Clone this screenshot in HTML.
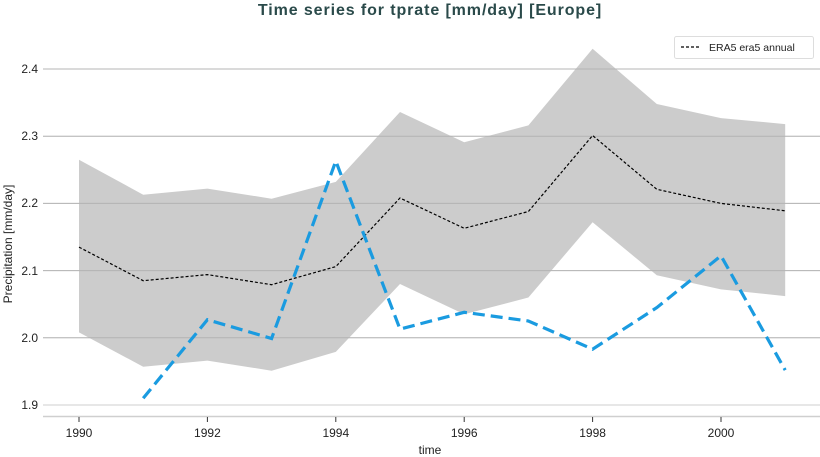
<!DOCTYPE html>
<html><head><meta charset="utf-8"><style>
body{margin:0;background:#fff;}
svg{display:block;font-family:"Liberation Sans","DejaVu Sans",sans-serif;}
</style></head><body>
<svg width="820" height="457" viewBox="0 0 820 457">
<text x="430" y="15" text-anchor="middle" font-size="16" font-weight="bold" letter-spacing="0.9" fill="#2a4a4a">Time series for tprate [mm/day] [Europe]</text>
<g stroke="#cfcfcf" stroke-width="1">
<line x1="43" x2="820" y1="69" y2="69"/><line x1="43" x2="820" y1="136.2" y2="136.2"/>
<line x1="43" x2="820" y1="203.4" y2="203.4"/><line x1="43" x2="820" y1="270.6" y2="270.6"/>
<line x1="43" x2="820" y1="337.8" y2="337.8"/><line x1="43" x2="820" y1="405" y2="405"/>
</g>
<polygon fill="#cccccc" points="79,159.7 143.2,194.7 207.4,188.6 271.6,198.7 335.8,181.9 400,112 464.2,142.2 528.4,125.4 592.6,48.8 656.8,104 721,118.1 785.2,124.1 785.2,296.1 721,289.4 656.8,275.3 592.6,222.2 528.4,297.5 464.2,314.3 400,284 335.8,351.9 271.6,370.7 207.4,360.6 143.2,366.7 79,332.4"/>
<g stroke="#999" stroke-opacity="0.5"><line x1="43" x2="820" y1="69" y2="69"/><line x1="43" x2="820" y1="136.2" y2="136.2"/><line x1="43" x2="820" y1="203.4" y2="203.4"/><line x1="43" x2="820" y1="270.6" y2="270.6"/><line x1="43" x2="820" y1="337.8" y2="337.8"/></g>
<polyline fill="none" stroke="#000" stroke-width="1.2" stroke-dasharray="3,2" points="79,247.1 143.2,280.7 207.4,274.6 271.6,284.7 335.8,266.6 400,198 464.2,228.3 528.4,211.5 592.6,135.5 656.8,189.3 721,203.4 785.2,210.8"/>
<polyline fill="none" stroke="#1a9be0" stroke-width="3.2" stroke-dasharray="12,6" points="143.2,398.3 207.4,319.7 271.6,338.5 335.8,161.1 400,329.1 464.2,312.3 528.4,321 592.6,349.2 656.8,307.6 721,255.8 785.2,370.1"/>
<line x1="43" x2="820" y1="416.5" y2="416.5" stroke="#cfcfcf" stroke-width="1.5"/>
<g stroke="#333" stroke-width="1"><line x1="79" x2="79" y1="417" y2="422"/><line x1="207.4" x2="207.4" y1="417" y2="422"/><line x1="335.8" x2="335.8" y1="417" y2="422"/><line x1="464.2" x2="464.2" y1="417" y2="422"/><line x1="592.6" x2="592.6" y1="417" y2="422"/><line x1="721" x2="721" y1="417" y2="422"/></g>
<g font-size="12" fill="#222" text-anchor="middle">
<text x="79" y="437">1990</text><text x="207.4" y="437">1992</text><text x="335.8" y="437">1994</text><text x="464.2" y="437">1996</text><text x="592.6" y="437">1998</text><text x="721" y="437">2000</text>
<text x="430" y="454">time</text>
</g>
<g font-size="12" fill="#222" text-anchor="end">
<text x="38" y="73">2.4</text><text x="38" y="140">2.3</text><text x="38" y="207">2.2</text><text x="38" y="275">2.1</text><text x="38" y="342">2.0</text><text x="38" y="409">1.9</text>
</g>
<text transform="translate(12,244) rotate(-90)" font-size="12" fill="#222" text-anchor="middle">Precipitation [mm/day]</text>
<rect x="674.5" y="36.5" width="139" height="22" rx="2" fill="#fff" stroke="#ddd"/>
<line x1="681" x2="701" y1="47" y2="47" stroke="#000" stroke-width="1.2" stroke-dasharray="3,2"/>
<text x="709" y="51" font-size="10.5" fill="#222">ERA5 era5 annual</text>
</svg>
</body></html>
